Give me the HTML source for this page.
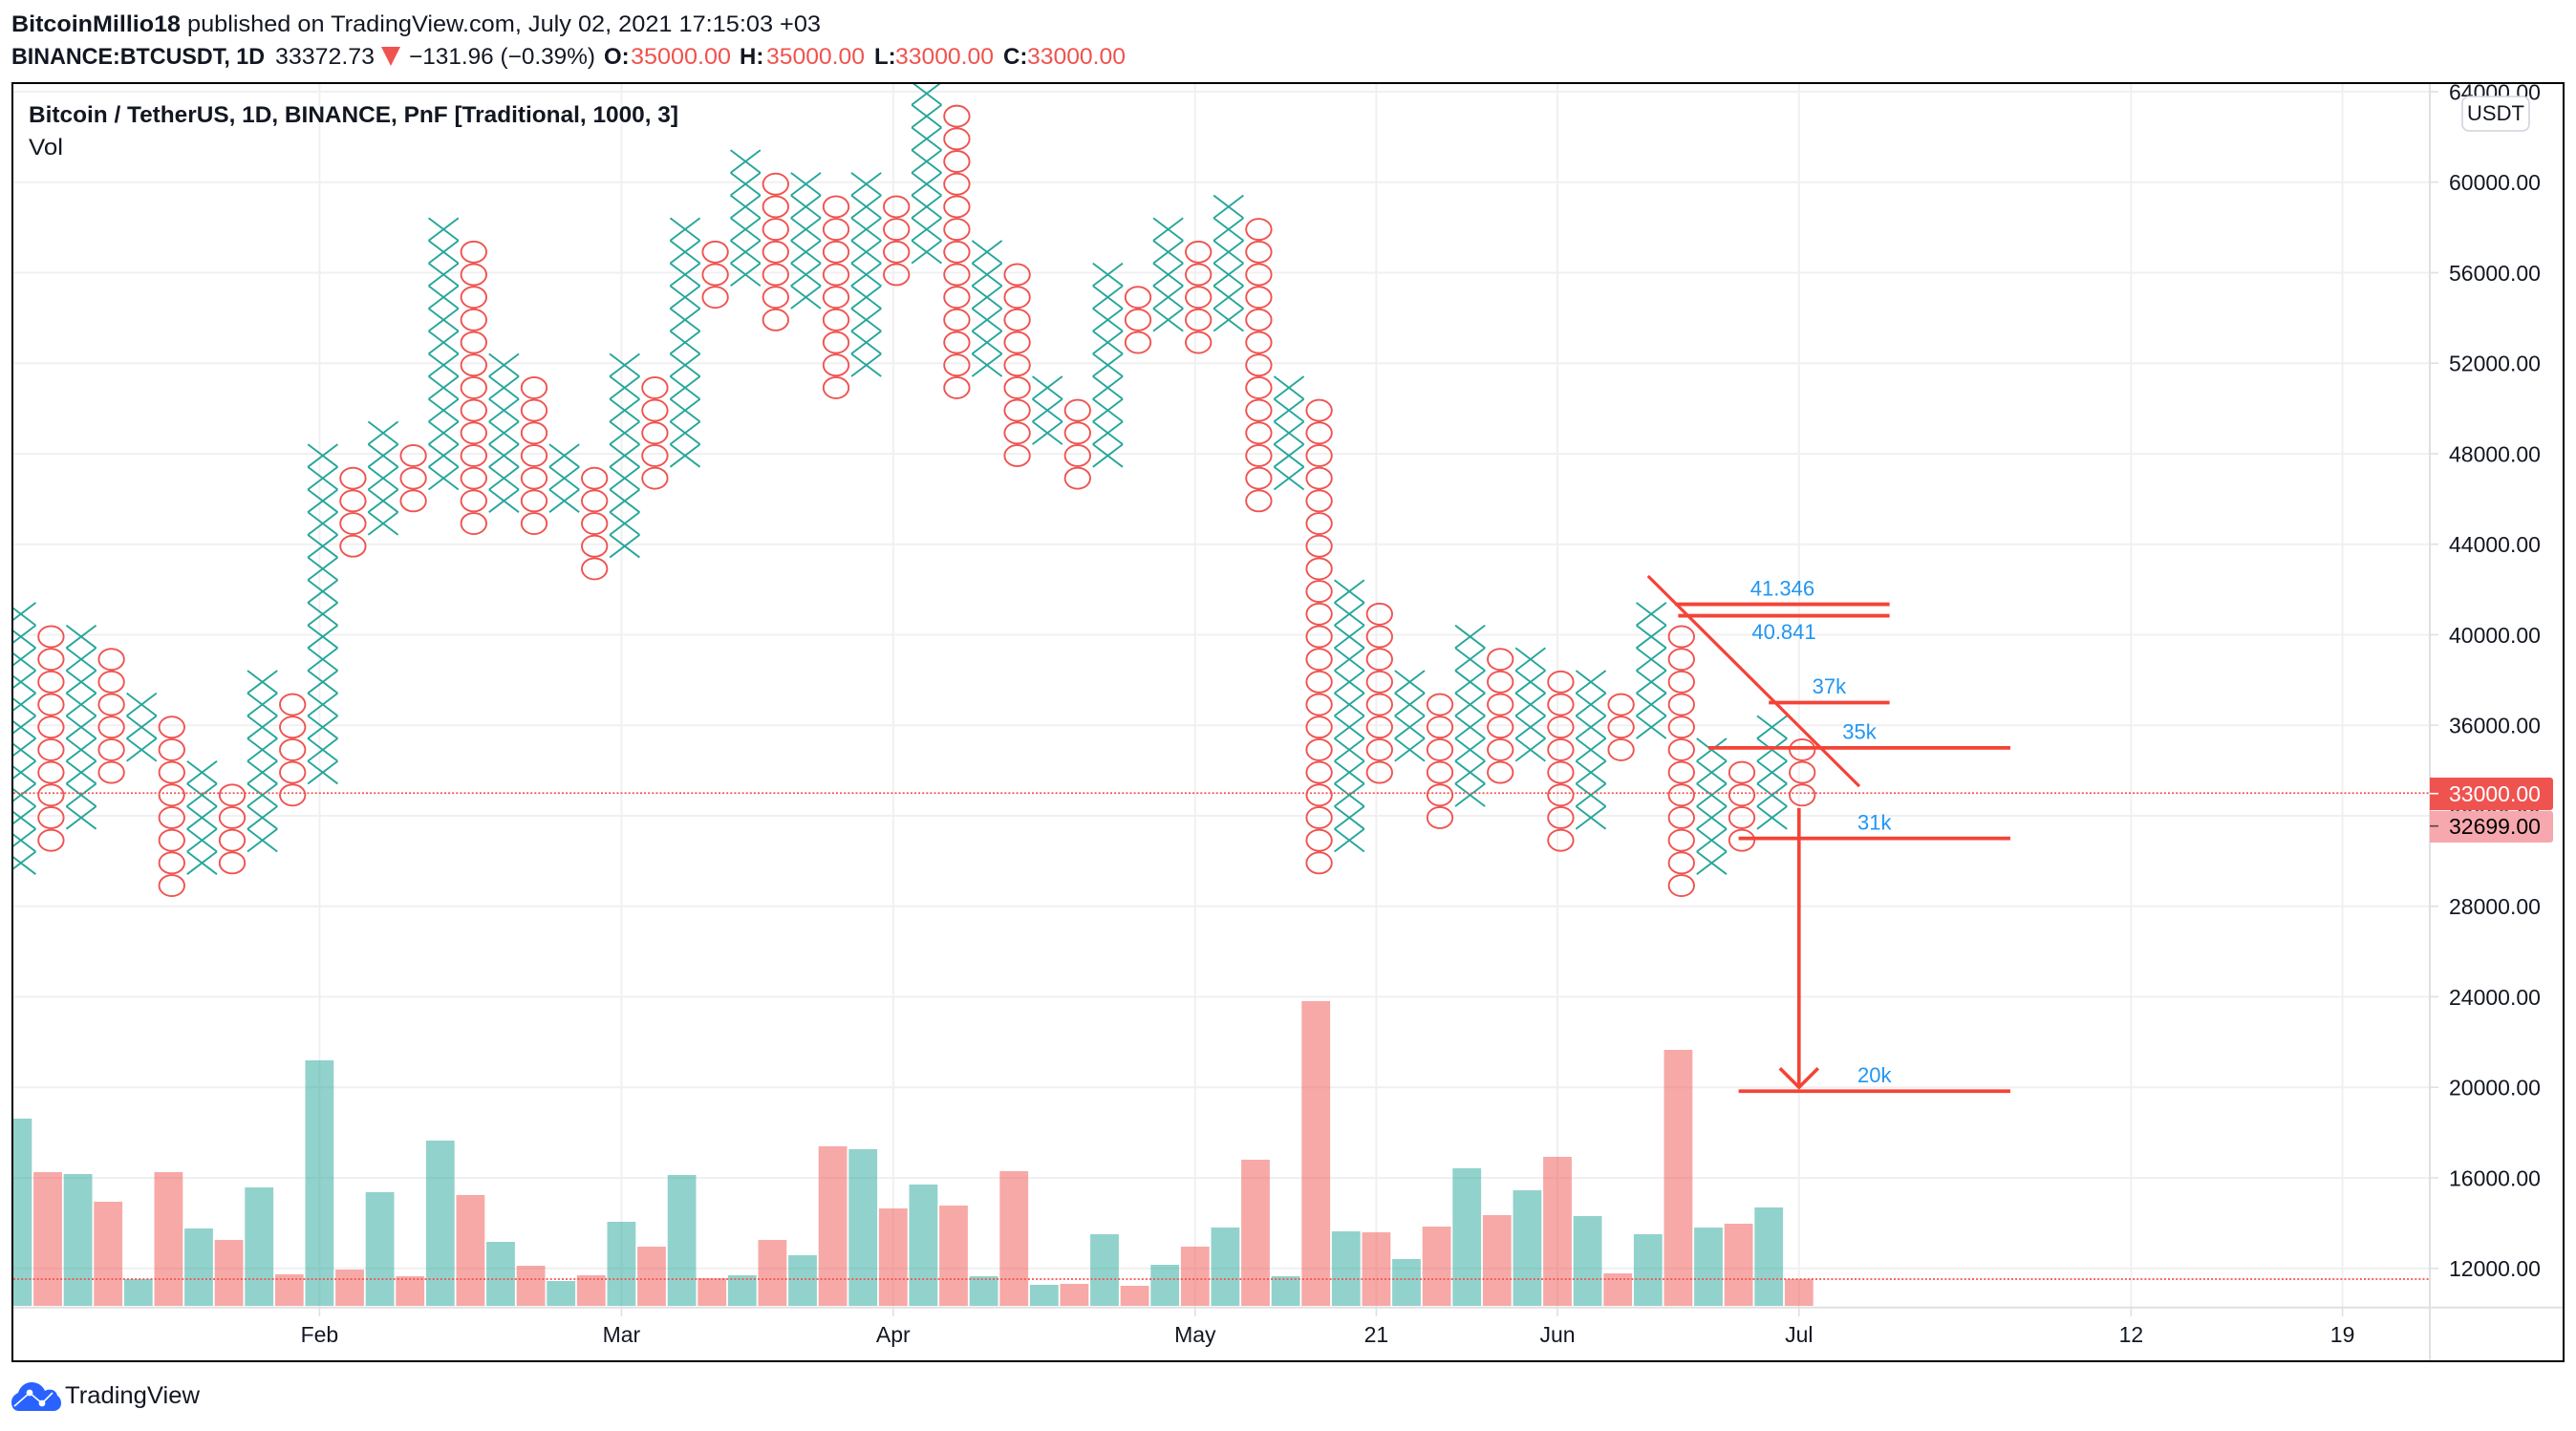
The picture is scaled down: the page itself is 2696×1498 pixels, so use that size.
<!DOCTYPE html>
<html lang="en">
<head>
<meta charset="utf-8">
<title>BTCUSDT Point and Figure chart</title>
<style>
html,body{margin:0;padding:0;background:#fff;width:2696px;height:1498px;overflow:hidden}
svg{display:block}
text{font-family:"Liberation Sans",sans-serif;fill:#131722}
</style>
</head>
<body>
<svg id="root" xmlns="http://www.w3.org/2000/svg" width="2696" height="1498" viewBox="0 0 2696 1498">
  <defs>
    <clipPath id="paneClip"><rect x="14" y="88" width="2529" height="1280"/></clipPath>
    <clipPath id="axisClip"><rect x="2544" y="88" width="138" height="1280"/></clipPath>
  </defs>
  <g font-size="24">
    <text x="12" y="33" font-weight="700" textLength="177" lengthAdjust="spacingAndGlyphs">BitcoinMillio18</text>
    <text x="196" y="33" textLength="663" lengthAdjust="spacingAndGlyphs">published on TradingView.com, July 02, 2021 17:15:03 +03</text>
    <text x="12" y="67" font-weight="700" textLength="265" lengthAdjust="spacingAndGlyphs">BINANCE:BTCUSDT, 1D</text>
    <text x="288" y="67" textLength="104" lengthAdjust="spacingAndGlyphs">33372.73</text>
    <polygon points="399,49 419,49 409,69" fill="#ef5350"/>
    <text x="428" y="67" textLength="195" lengthAdjust="spacingAndGlyphs">−131.96 (−0.39%)</text>
    <text x="632" y="67" font-weight="700">O:</text>
    <text x="660" y="67" style="fill:#ef5350" textLength="105" lengthAdjust="spacingAndGlyphs">35000.00</text>
    <text x="774" y="67" font-weight="700">H:</text>
    <text x="802" y="67" style="fill:#ef5350" textLength="103" lengthAdjust="spacingAndGlyphs">35000.00</text>
    <text x="915" y="67" font-weight="700">L:</text>
    <text x="937" y="67" style="fill:#ef5350" textLength="103" lengthAdjust="spacingAndGlyphs">33000.00</text>
    <text x="1050" y="67" font-weight="700">C:</text>
    <text x="1075" y="67" style="fill:#ef5350" textLength="103" lengthAdjust="spacingAndGlyphs">33000.00</text>
  </g>

  <g id="gridLayer"></g>
  <g id="volumeLayer" clip-path="url(#paneClip)"></g>
  <line id="volumeLine" x1="14" x2="2543" stroke="#ef5350" stroke-width="1.8" stroke-dasharray="2 2.1"/>
  <g id="pnfLayer" clip-path="url(#paneClip)"></g>
  <line id="priceLine" x1="14" x2="2543" stroke="#ef5350" stroke-width="1.8" stroke-dasharray="2 2.1"/>
  <g id="drawLayer" clip-path="url(#paneClip)"></g>

  <g font-size="24">
    <text x="30" y="128" font-weight="700" textLength="680" lengthAdjust="spacingAndGlyphs">Bitcoin / TetherUS, 1D, BINANCE, PnF [Traditional, 1000, 3]</text>
    <text x="30" y="162" textLength="36" lengthAdjust="spacingAndGlyphs">Vol</text>
  </g>

  <line x1="14" x2="2682" y1="1368.7" y2="1368.7" stroke="#e0e0e4" stroke-width="2"/>
  <line x1="2543" x2="2543" y1="88" y2="1424" stroke="#e0e0e4" stroke-width="2"/>
  <g id="priceAxis" font-size="23" clip-path="url(#axisClip)"></g>
  <g id="timeAxis" font-size="23"></g>

  <g>
    <rect x="2577" y="101" width="70" height="36" rx="7" fill="#fff" stroke="#d1d4dc" stroke-width="1.6"/>
    <text x="2612" y="126" font-size="22" text-anchor="middle">USDT</text>
  </g>

  <g>
    <path d="M2543 814H2669a3 3 0 0 1 3 3V845a3 3 0 0 1 -3 3H2543Z" fill="#ef5350"/>
    <line x1="2543" x2="2552" y1="830.7" y2="830.7" stroke="#fff" stroke-width="1.6"/>
    <text x="2563" y="839" font-size="23" style="fill:#fff">33000.00</text>
  </g>
  <g>
    <path d="M2543 848.7H2669a3 3 0 0 1 3 3V879a3 3 0 0 1 -3 3H2543Z" fill="#f7a7ae"/>
    <line x1="2543" x2="2552" y1="864.7" y2="864.7" stroke="#5a4044" stroke-width="1.6"/>
    <text x="2563" y="873" font-size="23" style="fill:#000">32699.00</text>
  </g>

  <rect x="13" y="87" width="2670" height="1338" fill="none" stroke="#000" stroke-width="2"/>

  <g>
    <path d="M20 1477C14 1477 12 1472 12 1468C12 1463 15 1460 19 1458C21 1451 27 1447 33 1447C40 1447 45 1451 47 1456C52 1453 59 1455 60 1461C63 1463 64 1466 64 1469C64 1474 60 1477 56 1477Z" fill="#2962ff"/>
    <polyline points="15,1472 31,1458 44,1469 55,1458" fill="none" stroke="#fff" stroke-width="1.6"/>
    <circle cx="31" cy="1458" r="3.4" fill="#fff"/>
    <circle cx="44" cy="1469" r="3.4" fill="#fff"/>
    <text x="68" y="1469" font-size="25" textLength="141" lengthAdjust="spacingAndGlyphs">TradingView</text>
  </g>
</svg>

<script>
// ---- chart data (prices in thousands of USDT for column extents) ----
const columnTypes = ['X','O','X','O','X','O','X','O','X','O','X','O','X','O','X','O','X','O','X','O',
  'X','O','X','O','X','O','X','O','X','O','X','O','X','O','X','O','X','O','X','O',
  'X','O','X','O','X','O','X','O','X','O','X','O','X','O','X','O','X','O','X','O'];
const columnTops = [41,40,40,39,37,36,34,33,38,37,48,47,49,48,58,57,52,51,48,47,
  52,51,58,57,61,60,60,59,60,59,64,63,57,56,51,50,56,55,58,57,
  59,58,51,50,42,41,38,37,40,39,39,38,38,37,41,40,35,34,36,35];
const columnBottoms = [30,31,32,34,35,29,30,30,31,33,34,44,45,46,47,45,46,45,46,43,
  44,47,48,55,56,54,55,51,52,56,57,51,52,48,49,47,48,53,54,53,
  54,46,47,30,31,34,35,32,33,34,35,31,32,35,36,29,30,31,32,33];
const volumes = [19.6,14.0,13.8,10.9,2.8,14.0,8.1,6.9,12.4,3.3,25.7,3.8,11.9,3.1,17.3,11.6,6.7,4.2,2.6,3.2,
  8.8,6.2,13.7,2.9,3.2,6.9,5.3,16.7,16.4,10.2,12.7,10.5,3.1,14.1,2.2,2.3,7.5,2.1,4.3,6.2,
  8.2,15.3,3.1,31.9,7.8,7.7,4.9,8.3,14.4,9.5,12.1,15.6,9.4,3.4,7.5,26.8,8.2,8.6,10.3,2.8];
const priceTicks = [12000,16000,20000,24000,28000,32000,36000,40000,44000,48000,52000,56000,60000,64000];
const priceTickLabels = ['12000.00','16000.00','20000.00','24000.00','28000.00','32000.00','36000.00','40000.00','44000.00','48000.00','52000.00','56000.00','60000.00','64000.00'];
const timeTickBars = [10,20,29,39,45,51,59,70,77];
const timeTickLabels = ['Feb','Mar','Apr','May','21','Jun','Jul','12','19'];
const lastPrice = 33000;
const lastVolume = 2.8;
// drawings, anchored in chart coordinates (bar index, price)
const levelPrices = [41346,40841,37000,35000,31000,19830];
const levelStarts = [54.9,55,58,56,57,57];
const levelEnds = [62,62,62,66,66,66];
const levelLabels = ['41.346','40.841','37k','35k','31k','20k'];
const levelLabelBelow = [false,true,false,false,false,false];
const trendBars = [54,61];
const trendPrices = [42595,33300];
const arrowBar = 59;
const arrowPrices = [32340,20000];

// ---- axis functions ----
const svgNS = 'http://www.w3.org/2000/svg';
function xBar(i){ return 18.4 + i * 31.6; }
function xColumn(i){ return xBar(i) + 3.4; }
function yPrice(p){ return 190.7 + (60000 - p) * 0.023688; }
function yBox(k){ return yPrice(k * 1000) + 2; }
function hVolume(v){ return v * 10; }
const volumeBase = 1367;
const PANE_LEFT = 14, PANE_RIGHT = 2543, PANE_TOP = 88, PANE_BOTTOM = 1368;
function make(tag, attrs, parent){
  const el = document.createElementNS(svgNS, tag);
  for (const k in attrs) el.setAttribute(k, attrs[k]);
  parent.appendChild(el);
  return el;
}
const gridLayer = document.getElementById('gridLayer');
const volumeLayer = document.getElementById('volumeLayer');
const pnfLayer = document.getElementById('pnfLayer');
const drawLayer = document.getElementById('drawLayer');
const priceAxis = document.getElementById('priceAxis');
const timeAxis = document.getElementById('timeAxis');

// grid + axes
priceTicks.forEach(function(p, i){
  const y = yPrice(p);
  const g = make('line', {x1:PANE_LEFT, x2:PANE_RIGHT, y1:y, y2:y, stroke:'#f0f0f2', 'stroke-width':2}, gridLayer);
  
  
  const t = make('line', {x1:PANE_RIGHT, x2:PANE_RIGHT + 9, y1:y, y2:y, stroke:'#e0e0e4', 'stroke-width':1.6}, gridLayer);
  
  
  const l = make('text', {x:2563, y:y + 8.5}, priceAxis);
  
  
  l.textContent = priceTickLabels[i];
});
timeTickBars.forEach(function(b, i){
  const x = xBar(b);
  const g = make('line', {x1:x, x2:x, y1:PANE_TOP, y2:PANE_BOTTOM, stroke:'#f0f0f2', 'stroke-width':2}, gridLayer);
  
  
  const t = make('line', {x1:x, x2:x, y1:PANE_BOTTOM, y2:1378, stroke:'#e0e0e4', 'stroke-width':1.6}, gridLayer);
  
  
  const l = make('text', {x:x, y:1405, 'text-anchor':'middle'}, timeAxis);
  
  
  l.textContent = timeTickLabels[i];
});

// volume bars
volumes.forEach(function(v, i){
  const h = hVolume(v);
  const up = columnTypes[i] === 'X';
  const r = make('rect', {x:xBar(i) - 14.9, y:volumeBase - h, width:29.8, height:h, fill: up ? '#26a69a' : '#ef5350', 'fill-opacity':0.5}, volumeLayer);
  
  
});
const volLine = document.getElementById('volumeLine');
const volLineY = volumeBase - hVolume(lastVolume);
volLine.setAttribute('y1', volLineY);
volLine.setAttribute('y2', volLineY);

// point & figure columns
columnTypes.forEach(function(type, i){
  const col = make('g', {}, pnfLayer);
  
  
  const cx = xColumn(i);
  for (let k = columnBottoms[i]; k <= columnTops[i]; k++) {
    const cy = yBox(k);
    if (type === 'X') {
      const m = make('path', {d:'M' + (cx - 15.6) + ' ' + (cy - 11.85) + 'L' + (cx + 15.6) + ' ' + (cy + 11.85) + 'M' + (cx + 15.6) + ' ' + (cy - 11.85) + 'L' + (cx - 15.6) + ' ' + (cy + 11.85), fill:'none', stroke:'#26a69a', 'stroke-width':1.9}, col);
      
      
    } else {
      const m = make('ellipse', {cx:cx, cy:cy, rx:13.2, ry:11, fill:'none', stroke:'#ef5350', 'stroke-width':1.9}, col);
      
      
    }
  }
});
const pLine = document.getElementById('priceLine');
pLine.setAttribute('y1', yPrice(lastPrice));
pLine.setAttribute('y2', yPrice(lastPrice));

// drawings
const RED = '#f44336';
const trend = make('line', {x1:xBar(trendBars[0]), y1:yPrice(trendPrices[0]), x2:xBar(trendBars[1]), y2:yPrice(trendPrices[1]), stroke:RED, 'stroke-width':3.2}, drawLayer);


levelPrices.forEach(function(p, i){
  const y = yPrice(p);
  const l = make('line', {x1:xBar(levelStarts[i]), x2:xBar(levelEnds[i]), y1:y, y2:y, stroke:RED, 'stroke-width':3.8}, drawLayer);
  
  
  const tx = (xBar(levelStarts[i]) + xBar(levelEnds[i])) / 2;
  const ty = levelLabelBelow[i] ? y + 24.3 : y - 9.3;
  const t = make('text', {x:tx, y:ty, 'text-anchor':'middle', 'font-size':22, style:'fill:#2196f3'}, drawLayer);
  
  
  t.textContent = levelLabels[i];
});
const ax = xBar(arrowBar);
const shaft = make('line', {x1:ax, x2:ax, y1:yPrice(arrowPrices[0]), y2:yPrice(arrowPrices[1]), stroke:RED, 'stroke-width':3.6}, drawLayer);


const tipY = yPrice(arrowPrices[1]);
const head = make('polyline', {points:(ax - 20) + ',' + (tipY - 20) + ' ' + ax + ',' + tipY + ' ' + (ax + 20) + ',' + (tipY - 20), fill:'none', stroke:RED, 'stroke-width':3.6}, drawLayer);


</script>
</body>
</html>
